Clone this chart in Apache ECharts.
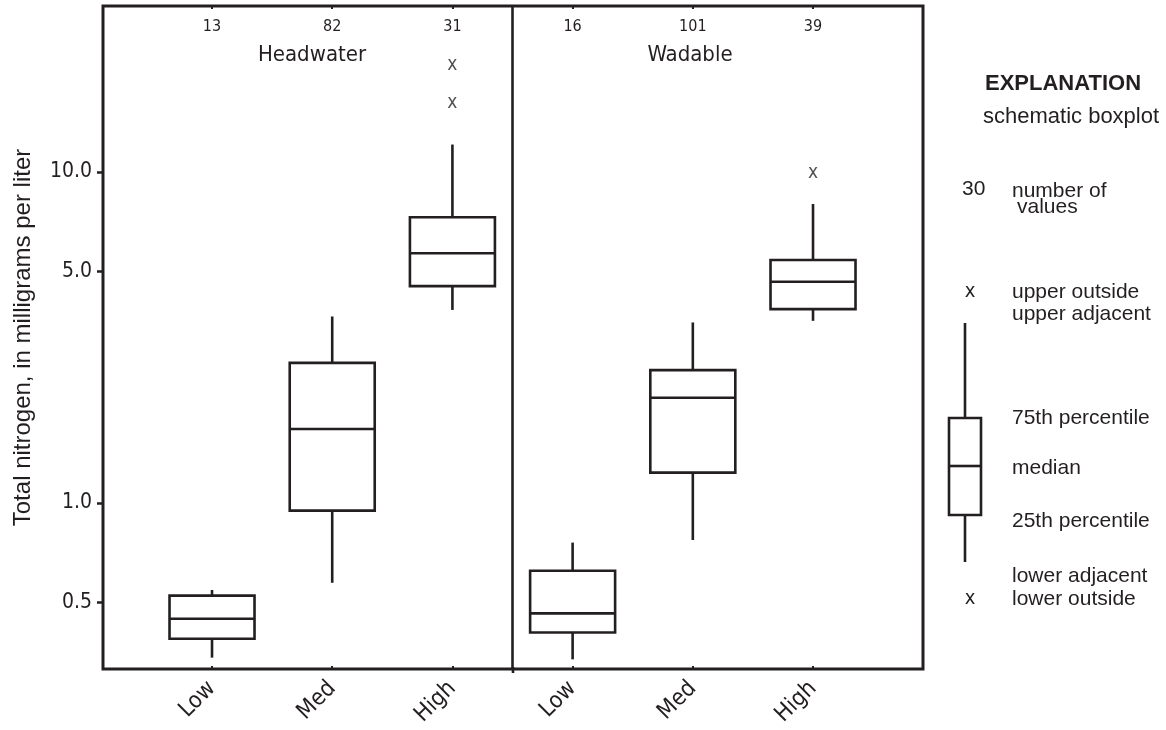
<!DOCTYPE html>
<html><head><meta charset="utf-8">
<script src="https://cdn.jsdelivr.net/npm/echarts@6/dist/echarts.min.js"></script>
<style>html,body{margin:0;padding:0;background:#fff}#c{width:1166px;height:730px}</style>
</head><body><div id="c"></div>
<script>
// ---- data ----
const categories = ['Low', 'Med', 'High', 'Low', 'Med', 'High'];
const groups = ['Headwater', 'Wadable'];
const counts = [13, 82, 31, 16, 101, 39];
const lowerAdjacent = [0.341, 0.574, 3.83, 0.337, 0.773, 3.55];
const p25 = [0.389, 0.948, 4.52, 0.406, 1.235, 3.85];
const medians = [0.447, 1.673, 5.68, 0.464, 2.08, 4.66];
const p75 = [0.525, 2.65, 7.30, 0.624, 2.52, 5.42];
const upperAdjacent = [0.546, 3.66, 12.1, 0.759, 3.51, 8.0];
const outsideIndex = [2, 2, 5];
const outsideValues = [21.0, 16.1, 9.9];
const yTicks = [0.5, 1, 5, 10];
const yLabels = ['0.5', '1.0', '5.0', '10.0'];

// ---- style ----
const INK = '#231f20';
const NARROW = "'DejaVu Sans Condensed','Liberation Sans Narrow',sans-serif";
const REG = "'Liberation Sans',Arial,sans-serif";
const LW = 2.6;
const BOX_W = 85;

const positions = categories.map((_, i) => i + 1);
const boxData = categories.map((_, i) => [i + 1, lowerAdjacent[i], p25[i], medians[i], p75[i], upperAdjacent[i]]);
const outData = outsideIndex.map((k, j) => [k + 1, outsideValues[j]]);
const divider = categories.length / 2 + 0.5;

const chart = echarts.init(document.getElementById('c'), null, {renderer: 'canvas'});

const xCommon = {
  type: 'value', min: 0.093, max: 6.915,
  axisLine: {show: false}, splitLine: {show: false}
};

function txt(x, y, t, font, align) {
  return {type: 'text', x: x, y: y, style: {text: t, fill: INK, font: font || ('21px ' + REG), textVerticalAlign: 'middle', textAlign: align || 'left'}};
}

chart.setOption({
  animation: false,
  grid: {left: 103, right: 243, top: 6, bottom: 61, show: true, borderColor: INK, borderWidth: 3, backgroundColor: 'transparent', outerBoundsMode: 'none'},
  xAxis: [
    Object.assign({}, xCommon, {
      position: 'bottom',
      axisTick: {show: true, inside: true, length: 3, customValues: positions, lineStyle: {color: INK, width: 2}},
      axisLabel: {customValues: positions, formatter: v => categories[Math.round(v) - 1], rotate: 45, margin: 16,
        color: INK, fontFamily: NARROW, fontSize: 23}
    }),
    Object.assign({}, xCommon, {
      position: 'top',
      axisTick: {show: true, inside: true, length: 3, customValues: positions, lineStyle: {color: INK, width: 2}},
      axisLabel: {customValues: positions, inside: true, formatter: v => String(counts[Math.round(v) - 1]), margin: 13,
        color: INK, fontFamily: NARROW, fontSize: 16}
    })
  ],
  yAxis: {
    type: 'log', logBase: 10, min: 0.3151, max: 31.72,
    name: 'Total nitrogen, in milligrams per liter', nameLocation: 'middle', nameGap: 68,
    nameTextStyle: {color: INK, fontFamily: REG, fontSize: 24},
    axisLine: {show: false},
    axisTick: {show: true, length: 6, customValues: yTicks, lineStyle: {color: INK, width: 2.5}},
    minorTick: {show: false},
    splitLine: {show: false},
    axisLabel: {customValues: yTicks, formatter: v => yLabels[yTicks.indexOf(+v)] || String(v), margin: 11,
      color: INK, fontFamily: NARROW, fontSize: 21}
  },
  series: [
    {
      type: 'custom', xAxisIndex: 0, yAxisIndex: 0, data: boxData,
      encode: {x: 0, y: [1, 2, 3, 4, 5]},
      renderItem: function (params, api) {
        const x = api.value(0);
        const lo = api.coord([x, api.value(1)]);
        const q1 = api.coord([x, api.value(2)]);
        const md = api.coord([x, api.value(3)]);
        const q3 = api.coord([x, api.value(4)]);
        const hi = api.coord([x, api.value(5)]);
        const hw = BOX_W / 2;
        const st = {stroke: INK, lineWidth: LW, fill: null};
        return {type: 'group', children: [
          {type: 'line', shape: {x1: hi[0], y1: hi[1], x2: q3[0], y2: q3[1]}, style: st},
          {type: 'line', shape: {x1: q1[0], y1: q1[1], x2: lo[0], y2: lo[1]}, style: st},
          {type: 'rect', shape: {x: q3[0] - hw, y: q3[1], width: 2 * hw, height: q1[1] - q3[1]}, style: {stroke: INK, lineWidth: LW, fill: '#fff'}},
          {type: 'line', shape: {x1: md[0] - hw, y1: md[1], x2: md[0] + hw, y2: md[1]}, style: st}
        ]};
      }
    },
    {
      type: 'scatter', xAxisIndex: 0, yAxisIndex: 0, data: outData,
      symbolSize: 1, itemStyle: {color: 'rgba(0,0,0,0)'},
      label: {show: true, position: 'inside', formatter: 'x', color: INK, fontFamily: NARROW, fontSize: 19},
      markLine: {
        silent: true, symbol: 'none', label: {show: false},
        lineStyle: {type: 'solid', color: INK, width: LW},
        data: [{xAxis: divider}]
      }
    }
  ],
  graphic: [
    // group titles
    txt(312, 55, groups[0], '22px ' + NARROW, 'center'),
    txt(690, 55, groups[1], '22px ' + NARROW, 'center'),
    // explanation
    txt(985, 84, 'EXPLANATION', 'bold 22px ' + REG),
    txt(983, 117, 'schematic boxplot', '22px ' + REG),
    txt(962, 189, '30'),
    txt(1012, 191, 'number of'),
    txt(1017, 207, 'values'),
    txt(970, 292, 'x', '20px ' + NARROW, 'center'),
    txt(1012, 292, 'upper outside'),
    txt(1012, 314, 'upper adjacent'),
    txt(1012, 418, '75th percentile'),
    txt(1012, 468, 'median'),
    txt(1012, 521, '25th percentile'),
    txt(1012, 576, 'lower adjacent'),
    txt(1012, 599, 'lower outside'),
    txt(970, 599, 'x', '20px ' + NARROW, 'center'),
    {type: 'line', shape: {x1: 965, y1: 323, x2: 965, y2: 418}, style: {stroke: INK, lineWidth: LW}},
    {type: 'line', shape: {x1: 965, y1: 515, x2: 965, y2: 562}, style: {stroke: INK, lineWidth: LW}},
    {type: 'rect', shape: {x: 949, y: 418, width: 32, height: 97}, style: {stroke: INK, lineWidth: LW, fill: '#fff'}},
    {type: 'line', shape: {x1: 949, y1: 466, x2: 981, y2: 466}, style: {stroke: INK, lineWidth: LW}},
    // divider stub below the frame, as in the reference
    {type: 'line', shape: {x1: 513, y1: 667, x2: 513, y2: 673}, style: {stroke: INK, lineWidth: LW}}
  ]
});
</script>
</body></html>
